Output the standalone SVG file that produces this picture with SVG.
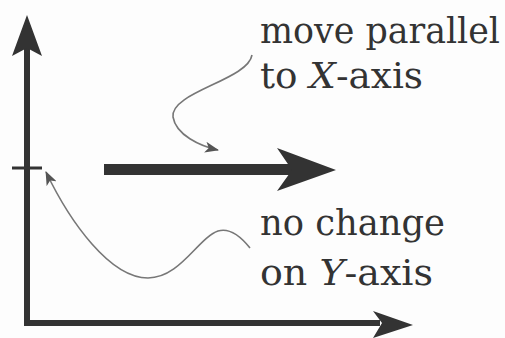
<svg xmlns="http://www.w3.org/2000/svg" width="505" height="338" viewBox="0 0 505 338">
<style>
.bg{fill:#fdfdfd}
.axis{stroke:#333;stroke-width:6;fill:none}
.head{fill:#333}
.thin{stroke:#777;stroke-width:1.6;fill:none}
.lbl{font-family:"DejaVu Serif","Liberation Serif",serif;font-size:35px;fill:#333}
.it{font-style:italic}
</style>
<defs>
<marker id="ah" viewBox="0 0 14 11" refX="13" refY="5.5" markerWidth="14" markerHeight="11" markerUnits="userSpaceOnUse" orient="auto">
<path d="M0,0 L14,5.5 L0,11 L3.5,5.5 Z" fill="#555"/>
</marker>
</defs>
<rect class="bg" x="0" y="0" width="505" height="338"/>
<g id="axes">
<path class="axis" d="M27,48 L27,323 L380,323"/>
<path class="head" d="M27,15 L42,56 L27,48 L12,56 Z"/>
<path class="head" d="M413,325 L373,311 L382,323 L373,338 Z"/>
<path d="M12,168 L42,168" stroke="#333" stroke-width="3"/>
</g>
<g id="move-arrow">
<rect class="head" x="104" y="164" width="188" height="11"/>
<path class="head" d="M336,170 L277,148 L292,170 L277,191 Z"/>
</g>
<g id="label-move">
<text class="lbl" x="260" y="43" textLength="240" lengthAdjust="spacingAndGlyphs">move parallel</text>
<text class="lbl" x="260" y="88" textLength="163" lengthAdjust="spacingAndGlyphs">to <tspan class="it">X</tspan>-axis</text>
</g>
<g id="label-nochange">
<text class="lbl" x="260" y="235" textLength="185" lengthAdjust="spacingAndGlyphs">no change</text>
<text class="lbl" x="260" y="285" textLength="173" lengthAdjust="spacingAndGlyphs">on <tspan class="it">Y</tspan>-axis</text>
</g>
<g id="connectors">
<path class="thin" marker-end="url(#ah)" d="M252,55 C248,80 170,92 173,117 C176,135 200,146 218,150"/>
<path class="thin" marker-end="url(#ah)" d="M250,248 C238,233 228,228 218,231 C198,238 180,278 148,278 C110,278 70,222 46,172"/>
</g>
</svg>
